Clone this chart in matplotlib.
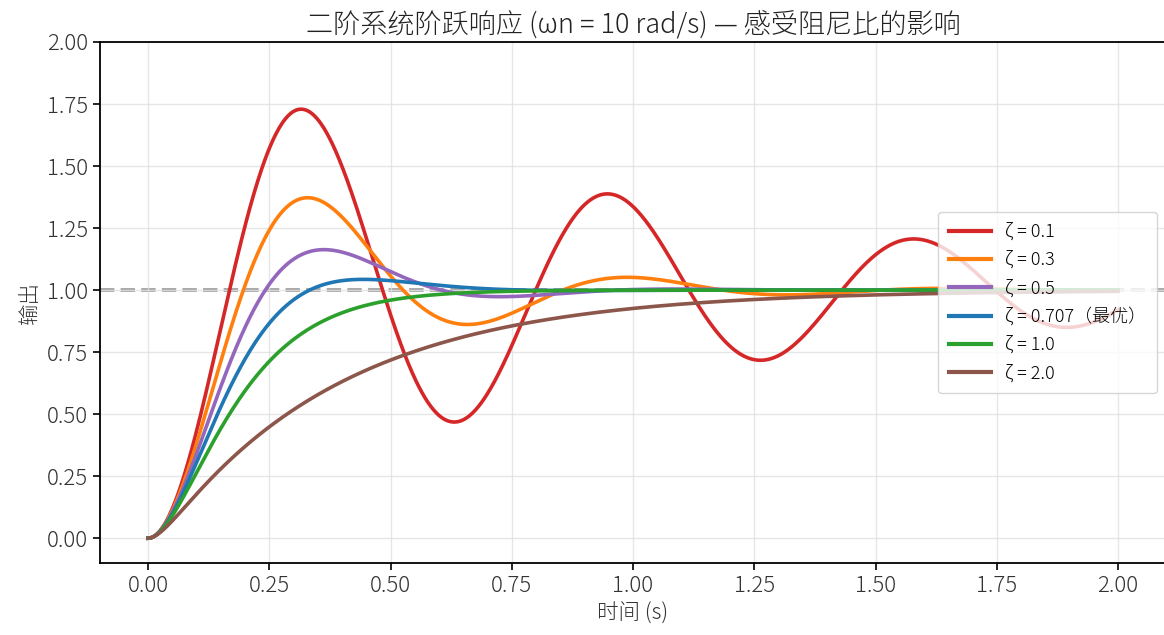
import matplotlib
matplotlib.use('Agg')
import matplotlib.pyplot as plt
import numpy as np

plt.rcParams['font.family'] = ['Noto Sans CJK JP', 'DejaVu Sans']
plt.rcParams['font.weight'] = 300
plt.rcParams['axes.titleweight'] = 300
plt.rcParams['axes.labelweight'] = 300
plt.rcParams['axes.unicode_minus'] = False

# system parameters (from title and legend)
wn = 10.0
zetas = [0.1, 0.3, 0.5, 0.707, 1.0, 2.0]
labels = ['ζ = 0.1', 'ζ = 0.3', 'ζ = 0.5', 'ζ = 0.707（最优）', 'ζ = 1.0', 'ζ = 2.0']
colors = ['#d62728', '#ff7f0e', '#9467bd', '#1f77b4', '#2ca02c', '#8c564b']
t = np.linspace(0, 2, 1000)


def step_response(z, w, t):
    if z < 1:
        wd = w * np.sqrt(1 - z ** 2)
        phi = np.arccos(z)
        return 1 - np.exp(-z * w * t) / np.sqrt(1 - z ** 2) * np.sin(wd * t + phi)
    if z == 1:
        return 1 - (1 + w * t) * np.exp(-w * t)
    s1 = -w * (z - np.sqrt(z ** 2 - 1))
    s2 = -w * (z + np.sqrt(z ** 2 - 1))
    return 1 + (s2 * np.exp(s1 * t) - s1 * np.exp(s2 * t)) / (s1 - s2)


fig = plt.figure(figsize=(11.64, 6.35), dpi=100)
ax = fig.add_axes([99.5 / 1164, 1 - 563 / 635, 1067 / 1164, 521 / 635])

ax.axhline(1.0, color='gray', linestyle='--', linewidth=2.8, alpha=0.7, zorder=1)
for z, lab, c in zip(zetas, labels, colors):
    ax.plot(t, step_response(z, wn, t), color=c, linewidth=2.6, label=lab, zorder=2)

ax.set_xlim(-0.1, 2.1)
ax.set_ylim(-0.1, 2.0)
ax.set_xticks(np.arange(0, 2.01, 0.25))
ax.set_yticks(np.arange(0, 2.01, 0.25))
ax.xaxis.set_major_formatter(matplotlib.ticker.FormatStrFormatter('%.2f'))
ax.yaxis.set_major_formatter(matplotlib.ticker.FormatStrFormatter('%.2f'))
ax.tick_params(labelsize=16, labelcolor='#333333', length=5, width=1.2, color='black')
ax.grid(True, color='#e0e0e0', linewidth=1, alpha=0.8)
for sp in ax.spines.values():
    sp.set_linewidth(1.3)

ax.set_xlabel('时间 (s)', fontsize=15.5, color='#333333', fontweight=300)
ax.set_ylabel('输出', fontsize=15.5, color='#333333', fontweight=300)
ax.set_title('二阶系统阶跃响应 (ωn = 10 rad/s) — 感受阻尼比的影响', fontsize=19.5,
             color='#222222', fontweight=300)

leg = ax.legend(loc='center right', bbox_to_anchor=(1166 / 1164, 1 - 302.5 / 635),
                bbox_transform=fig.transFigure, prop={'size': 13, 'weight': 300},
                framealpha=0.8, handlelength=2.3, borderpad=0.6, labelspacing=0.55)
for line in leg.get_lines():
    line.set_linewidth(3)

fig.savefig('out.png', dpi=100)
